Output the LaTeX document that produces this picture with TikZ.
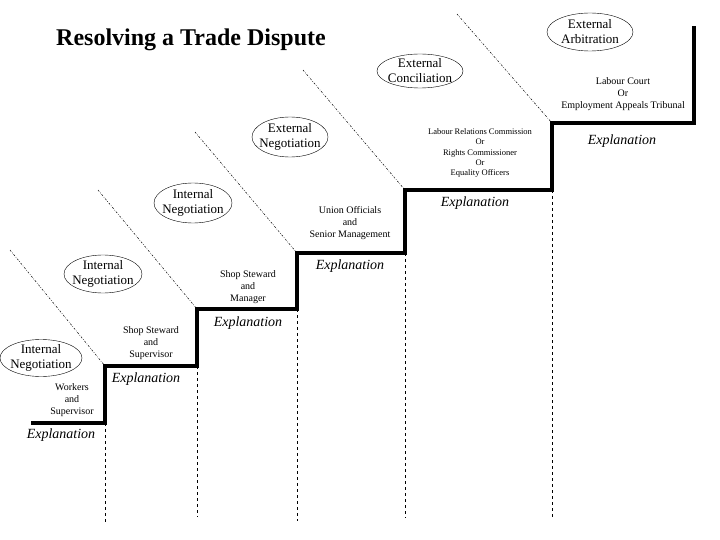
\documentclass[tikz,border=0pt]{standalone}
\usepackage{fontspec}
\setmainfont{Liberation Serif}
\usetikzlibrary{shapes.geometric,positioning}

\begin{document}
\begin{tikzpicture}[x=1pt, y=-1pt,
    stage/.style={ellipse, draw, thin, inner sep=0pt},
    stagetext/.style={align=center, font=\fontsize{13}{15}\selectfont},
    party/.style={align=center, font=\fontsize{10}{12}\selectfont},
    smallparty/.style={align=center, font=\fontsize{8.5}{10.3}\selectfont},
    expl/.style={font=\fontsize{14}{16}\selectfont\itshape},
    stair/.style={line width=3.5pt, line join=miter},
    drop/.style={dashed, thin},
    border/.style={line width=0.5pt, dash pattern=on 2pt off 1.5pt on 0.6pt off 1.5pt}
]
    \useasboundingbox (0,0) rectangle (720,540);

    % Title
    \node[font=\fontsize{24}{27}\selectfont\bfseries] (title) at (191,40) {Resolving a Trade Dispute};

    % Step corners
    \coordinate (b1) at (105,423); \coordinate (t1) at (105,366);
    \coordinate (b2) at (197,366); \coordinate (t2) at (197,309);
    \coordinate (b3) at (297,309); \coordinate (t3) at (297,253);
    \coordinate (b4) at (405,253); \coordinate (t4) at (405,190);
    \coordinate (b5) at (552,190); \coordinate (t5) at (552,123);

    % Staircase
    \draw[stair] (31,423) -- (b1) -- (t1) -- (b2) -- (t2) -- (b3) -- (t3)
        -- (b4) -- (t4) -- (b5) -- (t5) -- (694,123) -- (694,26);

    % Drops below each step
    \draw[drop] (b1) -- (105,523);
    \draw[drop] (b2) -- (197,517);
    \draw[drop] (b3) -- (297,521);
    \draw[drop] (b4) -- (405,518);
    \draw[drop] (b5) -- (552,517);

    % Stage borders
    \draw[border] (10,250) -- (t1);
    \draw[border] (98,190) -- (t2);
    \draw[border] (195,132) -- (t3);
    \draw[border] (303,70) -- (t4);
    \draw[border] (457,14) -- (t5);

    % Stages
    \node[stage, minimum width=82pt, minimum height=37pt] (int1) at (41,358) {};
    \node[stagetext] at (int1) {Internal\\Negotiation};
    \node[stage, minimum width=78pt, minimum height=38pt] (int2) at (103,274) {};
    \node[stagetext] at (int2) {Internal\\Negotiation};
    \node[stage, minimum width=78pt, minimum height=40pt] (int3) at (193,203) {};
    \node[stagetext] at (int3) {Internal\\Negotiation};
    \node[stage, minimum width=76pt, minimum height=40pt] (extneg) at (290,137) {};
    \node[stagetext] at (extneg) {External\\Negotiation};
    \node[stage, minimum width=86pt, minimum height=34pt] (extcon) at (420,71) {};
    \node[stagetext] at (extcon) {External\\Conciliation};
    \node[stage, minimum width=86pt, minimum height=38pt] (extarb) at (590,32) {};
    \node[stagetext] at (extarb) {External\\Arbitration};

    % Parties on each step
    \node[party] (p1) at (72,400) {Workers\\and\\Supervisor};
    \node[party] (p2) at (151,343) {Shop Steward\\and\\Supervisor};
    \node[party] (p3) at (248,287) {Shop Steward\\and\\Manager};
    \node[party] (p4) at (350,223) {Union Officials\\and\\Senior Management};
    \node[smallparty] (p5) at (480,153) {Labour Relations Commission\\Or\\Rights Commissioner\\Or\\Equality Officers};
    \node[party] (p6) at (623,94) {Labour Court\\Or\\Employment Appeals Tribunal};

    % Explanations
    \node[expl] (e1) at (61,435) {Explanation};
    \node[expl] (e2) at (146,379) {Explanation};
    \node[expl] (e3) at (248,323) {Explanation};
    \node[expl] (e4) at (350,266) {Explanation};
    \node[expl] (e5) at (475,203) {Explanation};
    \node[expl] (e6) at (622,141) {Explanation};
\end{tikzpicture}
\end{document}
